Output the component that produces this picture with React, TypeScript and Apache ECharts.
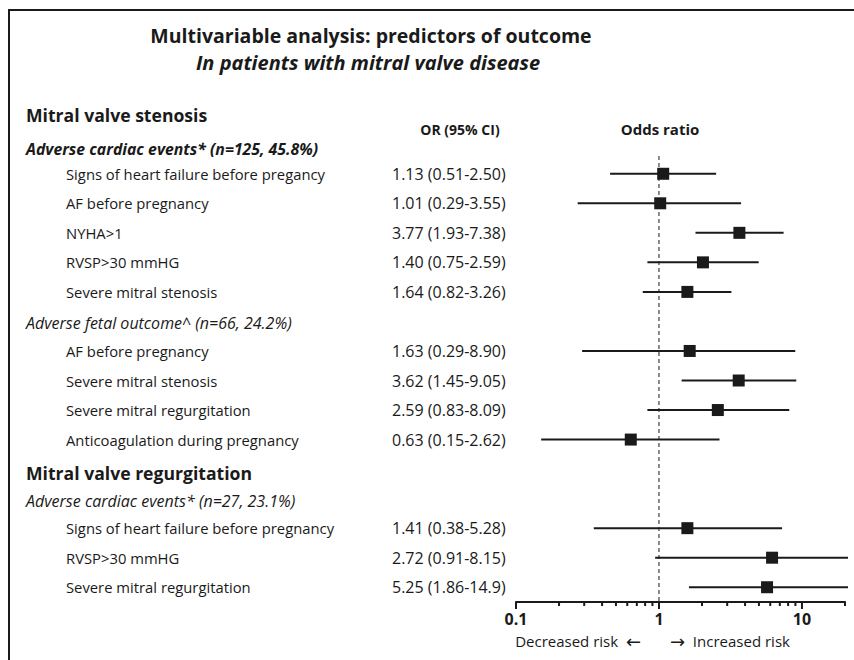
import React, { useEffect, useRef } from "react";
import * as echarts from "echarts";

// ---- data ----
const rowLabels = [
  "Signs of heart failure before pregancy",
  "AF before pregnancy",
  "NYHA>1",
  "RVSP>30 mmHG",
  "Severe mitral stenosis",
  "AF before pregnancy",
  "Severe mitral stenosis",
  "Severe mitral regurgitation",
  "Anticoagulation during pregnancy",
  "Signs of heart failure before pregnancy",
  "RVSP>30 mmHG",
  "Severe mitral regurgitation",
];
const orText = [
  "1.13 (0.51-2.50)",
  "1.01 (0.29-3.55)",
  "3.77 (1.93-7.38)",
  "1.40 (0.75-2.59)",
  "1.64 (0.82-3.26)",
  "1.63 (0.29-8.90)",
  "3.62 (1.45-9.05)",
  "2.59 (0.83-8.09)",
  "0.63 (0.15-2.62)",
  "1.41 (0.38-5.28)",
  "2.72 (0.91-8.15)",
  "5.25 (1.86-14.9)",
];
// plotted marker positions (as drawn in the figure)
const plotOR = [1.07, 1.02, 3.65, 2.03, 1.58, 1.64, 3.61, 2.58, 0.635, 1.58, 6.18, 5.7];
const plotLow = [0.455, 0.27, 1.8, 0.83, 0.77, 0.29, 1.44, 0.83, 0.15, 0.35, 0.94, 1.62];
const plotHigh = [2.51, 3.75, 7.44, 4.98, 3.21, 8.98, 9.12, 8.15, 2.65, 7.26, 21, 21];
const rowSlots = [0, 1, 2, 3, 4, 6, 7, 8, 9, 12, 13, 14];

const headerTexts = [
  "Adverse fetal outcome^ (n=66, 24.2%)",
  "Mitral valve regurgitation",
  "Adverse cardiac events* (n=27, 23.1%)",
];
const headerSlots = [5, 10, 11];
const headerKinds = ["italic", "boldBig", "italic"];

const tickValues = [
  0.1, 0.2, 0.3, 0.4, 0.5, 0.6, 0.7, 0.8, 0.9, 1, 2, 3, 4, 5, 6, 7, 8, 9, 10, 20,
];
const majorTicks = [0.1, 1, 10];
const refValue = 1;

const FONT = "'Open Sans', 'Noto Sans', sans-serif";
const INK = "#1a1a1a";

const isMajor = (v: number) => majorTicks.some((m) => Math.abs(m - v) < 1e-9);

export default function App() {
  const ref = useRef<HTMLDivElement>(null);

  useEffect(() => {
    if (!ref.current) return;
    const chart = echarts.init(ref.current, undefined, { renderer: "svg" });

    const ciData = rowSlots.map((s, i) => [plotLow[i], plotHigh[i], plotOR[i], s]);
    const labelData = rowSlots.map((s, i) => [1, s, i]);
    const headerData = headerSlots.map((s, i) => [1, s, i]);

    const arrowRich = {
      a: { fontFamily: "'DejaVu Sans', sans-serif", fontSize: 18, fill: INK, color: INK },
    };

    const option: any = {
      animation: false,
      backgroundColor: "#ffffff",
      grid: { left: 516, top: 159, width: 329, height: 443, containLabel: false },
      xAxis: {
        type: "log",
        logBase: 10,
        min: 0.1,
        max: 20,
        axisLine: { show: true, onZero: false, lineStyle: { color: INK, width: 2 } },
        axisTick: { show: false },
        splitLine: { show: false },
        minorTick: { show: false },
        axisLabel: {
          color: INK,
          fontFamily: FONT,
          fontWeight: "bold",
          fontSize: 16,
          margin: 9,
          formatter: (v: number) => (isMajor(v) ? String(v) : ""),
        },
      },
      yAxis: {
        type: "value",
        inverse: true,
        min: -0.5,
        max: 14.5,
        show: false,
        axisLine: { show: false },
        axisTick: { show: false },
        axisLabel: { show: false },
        splitLine: { show: false },
      },
      graphic: [
        { type: "line", shape: { x1: 8, y1: 10, x2: 854, y2: 10 }, style: { stroke: INK, lineWidth: 2 } },
        { type: "line", shape: { x1: 9, y1: 10, x2: 9, y2: 660 }, style: { stroke: INK, lineWidth: 2 } },
        {
          type: "text",
          x: 371,
          y: 35,
          style: {
            text: "Multivariable analysis: predictors of outcome",
            font: `bold 19.5px ${FONT}`,
            fill: INK,
            align: "center",
            verticalAlign: "middle",
          },
        },
        {
          type: "text",
          x: 368,
          y: 62,
          style: {
            text: "In patients with mitral valve disease",
            font: `italic bold 20px ${FONT}`,
            fill: INK,
            align: "center",
            verticalAlign: "middle",
          },
        },
        {
          type: "text",
          x: 26,
          y: 115,
          style: { text: "Mitral valve stenosis", font: `bold 17.6px ${FONT}`, fill: INK, verticalAlign: "middle" },
        },
        {
          type: "text",
          x: 460,
          y: 129,
          style: { text: "OR (95% CI)", font: `bold 14px ${FONT}`, fill: INK, align: "center", verticalAlign: "middle" },
        },
        {
          type: "text",
          x: 660,
          y: 129,
          style: { text: "Odds ratio", font: `bold 15px ${FONT}`, fill: INK, align: "center", verticalAlign: "middle" },
        },
        {
          type: "text",
          x: 26,
          y: 149,
          style: {
            text: "Adverse cardiac events* (n=125, 45.8%)",
            font: `italic bold 15.8px ${FONT}`,
            fill: INK,
            verticalAlign: "middle",
          },
        },
        {
          type: "text",
          x: 641,
          y: 641,
          style: {
            text: "Decreased risk  {a|\u2190}",
            font: `15px ${FONT}`,
            fill: INK,
            align: "right",
            verticalAlign: "middle",
            rich: arrowRich,
          },
        },
        {
          type: "text",
          x: 670,
          y: 641,
          style: {
            text: "{a|\u2192}  Increased risk",
            font: `15px ${FONT}`,
            fill: INK,
            align: "left",
            verticalAlign: "middle",
            rich: arrowRich,
          },
        },
      ],
      series: [
        {
          type: "custom",
          name: "reference",
          clip: false,
          data: [[refValue, 0]],
          encode: { x: 0, y: 1 },
          renderItem: (params: any, api: any) => {
            const x = api.coord([api.value(0), 0])[0];
            const cs = params.coordSys;
            return {
              type: "line",
              shape: { x1: x, y1: cs.y - 3, x2: x, y2: cs.y + cs.height },
              style: { stroke: INK, lineWidth: 1, lineDash: [4, 3] },
            };
          },
          z: 1,
        },
        {
          type: "custom",
          name: "ci",
          clip: false,
          data: ciData,
          encode: { x: [0, 1, 2], y: 3 },
          renderItem: (params: any, api: any) => {
            const yv = api.value(3);
            const y = api.coord([1, yv])[1];
            const xl = api.coord([api.value(0), yv])[0];
            const xh = api.coord([api.value(1), yv])[0];
            const xm = api.coord([api.value(2), yv])[0];
            const s = 12;
            return {
              type: "group",
              children: [
                { type: "line", shape: { x1: xl, y1: y, x2: xh, y2: y }, style: { stroke: INK, lineWidth: 2 } },
                { type: "rect", shape: { x: xm - s / 2, y: y - s / 2, width: s, height: s }, style: { fill: INK } },
              ],
            };
          },
          z: 3,
        },
        {
          type: "custom",
          name: "ticks",
          clip: false,
          data: tickValues.map((v) => [v, 0]),
          encode: { x: 0, y: 1 },
          renderItem: (params: any, api: any) => {
            const v = api.value(0);
            const x = api.coord([v, 0])[0];
            const yb = params.coordSys.y + params.coordSys.height;
            const len = isMajor(v) ? 7 : 4;
            return {
              type: "line",
              shape: { x1: x, y1: yb, x2: x, y2: yb + len },
              style: { stroke: INK, lineWidth: 2 },
            };
          },
        },
        {
          type: "custom",
          name: "labels",
          clip: false,
          data: labelData,
          encode: { x: 0, y: 1 },
          renderItem: (params: any, api: any) => {
            const y = api.coord([1, api.value(1)])[1];
            const i = api.value(2);
            return {
              type: "group",
              children: [
                {
                  type: "text",
                  x: 66,
                  y,
                  style: { text: rowLabels[i], font: `14.8px ${FONT}`, fill: INK, verticalAlign: "middle" },
                },
                {
                  type: "text",
                  x: 392,
                  y,
                  style: { text: orText[i], font: `16px ${FONT}`, fill: INK, verticalAlign: "middle" },
                },
              ],
            };
          },
        },
        {
          type: "custom",
          name: "headers",
          clip: false,
          data: headerData,
          encode: { x: 0, y: 1 },
          renderItem: (params: any, api: any) => {
            const y = api.coord([1, api.value(1)])[1];
            const i = api.value(2);
            const kind = headerKinds[i];
            const font = kind === "boldBig" ? `bold 17.6px ${FONT}` : `italic 16px ${FONT}`;
            return {
              type: "text",
              x: 26,
              y: y + (kind === "boldBig" ? 4 : 2),
              style: { text: headerTexts[i], font, fill: INK, verticalAlign: "middle" },
            };
          },
        },
      ],
    };

    chart.setOption(option);
    return () => chart.dispose();
  }, []);

  return (
    <div
      ref={ref}
      style={{ position: "absolute", left: 0, top: 0, width: 854, height: 660, background: "#fff" }}
    />
  );
}
